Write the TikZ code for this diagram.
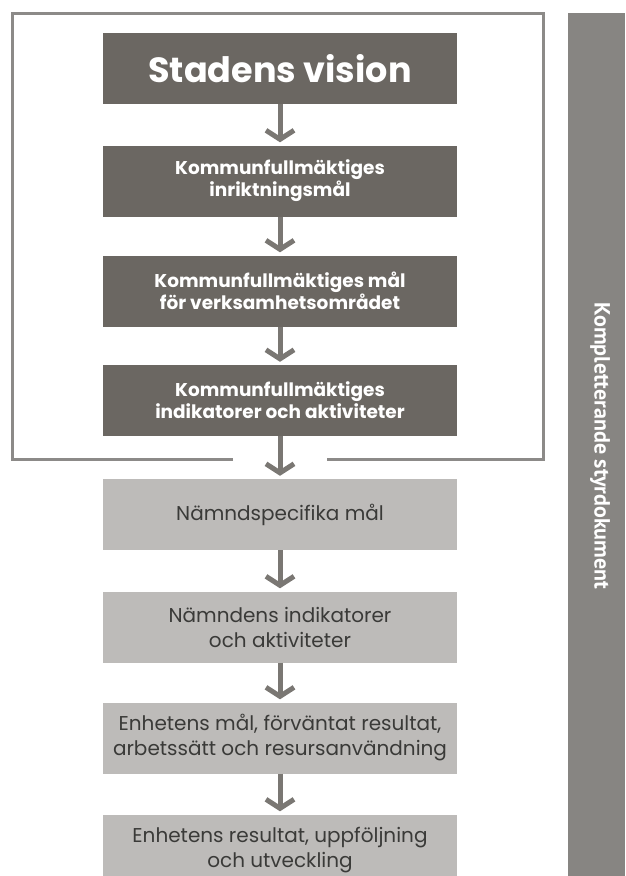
\documentclass[tikz,border=0pt]{standalone}
\usepackage{fontspec}
\setmainfont{Poppins}
\newfontfamily\barfont{PT Sans}
\usepackage{xcolor}
\usepackage{tikz}
\usetikzlibrary{arrows.meta}

\definecolor{darkbox}{HTML}{6B6762}
\definecolor{lightbox}{HTML}{BDBBB9}
\definecolor{lighttext}{HTML}{3A3A38}
\definecolor{sidebar}{HTML}{878582}
\definecolor{framegray}{HTML}{8C8A88}
\definecolor{arrowgray}{HTML}{7A7773}

\tikzset{
  goalbox/.style={fill=darkbox, text=white, font=\bfseries\fontsize{18.5}{22}\selectfont,
    minimum width=354pt, minimum height=71pt, inner sep=0pt, align=center},
  unitbox/.style={fill=lightbox, text=lighttext, font=\fontsize{20}{25}\selectfont,
    minimum width=354pt, minimum height=71pt, inner sep=0pt, align=center},
  flow/.style={draw=arrowgray, line width=5pt, shorten >=3pt,
    -{Straight Barb[length=9pt, width=28pt]}}
}

\begin{document}
\begin{tikzpicture}[x=1pt, y=-1pt]
  \clip (0,0) rectangle (625,876);

  % outer frame around the council level
  \coordinate (fl) at (233,459);
  \coordinate (fr) at (327,459);
  \draw[framegray, line width=3pt] (fl) -- (12,459) -- (12,13) -- (543,13) -- (543,459) -- (fr);

  \node[goalbox, font=\bfseries\fontsize{35}{40}\selectfont] (vision) at (280,68.5) {Stadens vision};
  \node[goalbox] (inrikt) at (280,181) {Kommunfullmäktiges\\inriktningsmål};
  \node[goalbox] (verks) at (280,291) {Kommunfullmäktiges mål\\för verksamhetsområdet};
  \node[goalbox] (kfind) at (280,400.5) {Kommunfullmäktiges\\indikatorer och aktiviteter};

  \node[unitbox] (nspec) at (280,514.5) {Nämndspecifika mål};
  \node[unitbox] (nind) at (280,627) {Nämndens indikatorer\\och aktiviteter};
  \node[unitbox] (emal) at (280,738) {Enhetens mål, förväntat resultat,\\arbetssätt och resursanvändning};
  \node[unitbox] (eres) at (280,850) {Enhetens resultat, uppföljning\\och utveckling};

  \draw[flow] (vision) -- (inrikt);
  \draw[flow] (inrikt) -- (verks);
  \draw[flow] (verks) -- (kfind);
  \draw[flow] (kfind) -- (nspec);
  \draw[flow] (nspec) -- (nind);
  \draw[flow] (nind) -- (emal);
  \draw[flow] (emal) -- (eres);

  % side bar
  \node[fill=sidebar, minimum width=57pt, minimum height=863pt, inner sep=0pt] (side) at (596.5,444.5) {};
  \node[text=white, rotate=-90, font=\barfont\bfseries\fontsize{22}{24}\selectfont] (sidetext) at (600,446) {Kompletterande styrdokument};
\end{tikzpicture}
\end{document}
